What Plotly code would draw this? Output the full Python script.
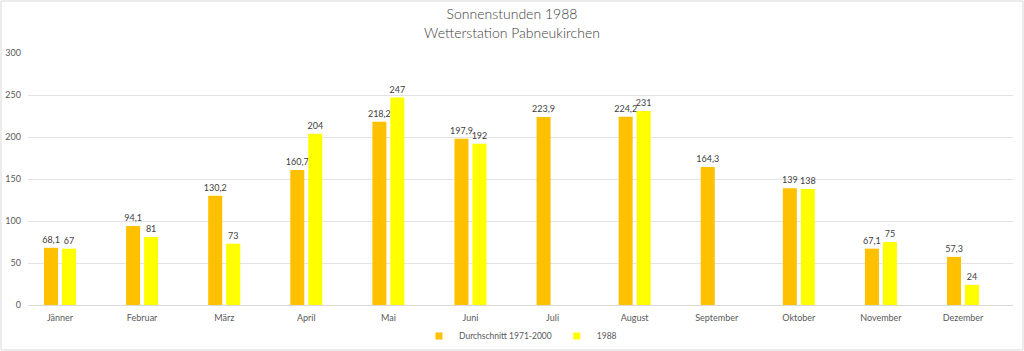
import plotly.graph_objects as go

months = ["Jänner", "Februar", "März", "April", "Mai", "Juni", "Juli",
          "August", "September", "Oktober", "November", "Dezember"]
avg_1971_2000 = [68.1, 94.1, 130.2, 160.7, 218.2, 197.9, 223.9, 224.2, 164.3, 139, 67.1, 57.3]
year_1988 = [67, 81, 73, 204, 247, 192, None, 231, None, 138, 75, 24]
y_ticks = [0, 50, 100, 150, 200, 250, 300]

names = ["Durchschnitt 1971-2000", "1988"]
colors = ["#FFC000", "#FFFF00"]


def fmt(v):
    if v is None:
        return ""
    return ("%g" % v).replace(".", ",")


FONT = "Lato, 'Open Sans', sans-serif"

fig = go.Figure()
for vals, name, col in zip([avg_1971_2000, year_1988], names, colors):
    fig.add_trace(go.Bar(
        x=months, y=vals, name=name, showlegend=False,
        marker=dict(color=col, line=dict(color=col, width=0)),
        text=[fmt(v) for v in vals], textposition="outside", textangle=0,
        constraintext="none",
        textfont=dict(size=9, color="#404040", family=FONT), cliponaxis=False,
    ))
# legend entries with small square markers
for name, col in zip(names, colors):
    fig.add_trace(go.Scatter(
        x=[None], y=[None], mode="markers", name=name,
        marker=dict(symbol="square", size=7, color=col),
    ))

fig.update_layout(
    width=1024, height=351,
    margin=dict(l=28, r=11, t=53, b=46, autoexpand=False),
    paper_bgcolor="white", plot_bgcolor="white",
    barmode="group", bargap=0.562, bargroupgap=0.22,
    font=dict(family=FONT, color="#595959", size=9),
    title=dict(
        text="Sonnenstunden 1988<br>Wetterstation Pabneukirchen",
        x=0.5, xanchor="center", y=0.945, yanchor="top",
        font=dict(size=14, color="#404040", family=FONT, weight=300),
    ),
    showlegend=True,
    legend=dict(orientation="h", x=0.5, xanchor="center", y=-0.123, yanchor="middle",
                font=dict(size=8.5, color="#595959"), itemwidth=30,
                entrywidth=0, traceorder="normal", bgcolor="rgba(0,0,0,0)"),
)
fig.update_xaxes(
    type="category", range=[-0.39, 11.609], showgrid=False, zeroline=False,
    showline=False, ticks="", tickfont=dict(size=9, color="#595959"),
    ticklabelstandoff=6,
)
fig.update_yaxes(
    range=[0, 300], tickvals=y_ticks, showgrid=True, gridcolor="#E3E3E3",
    gridwidth=1, zeroline=True, zerolinecolor="#D9D9D9", zerolinewidth=1,
    showline=False, ticks="", tickfont=dict(size=9, color="#595959"),
    ticklabelstandoff=6,
)
fig.add_shape(type="rect", xref="paper", yref="paper",
              x0=-27 / 985, x1=1 + 10 / 985, y0=-45 / 252, y1=1 + 52 / 252,
              line=dict(color="#D9D9D9", width=1), fillcolor="rgba(0,0,0,0)",
              layer="below")

fig.write_html("out.html")
